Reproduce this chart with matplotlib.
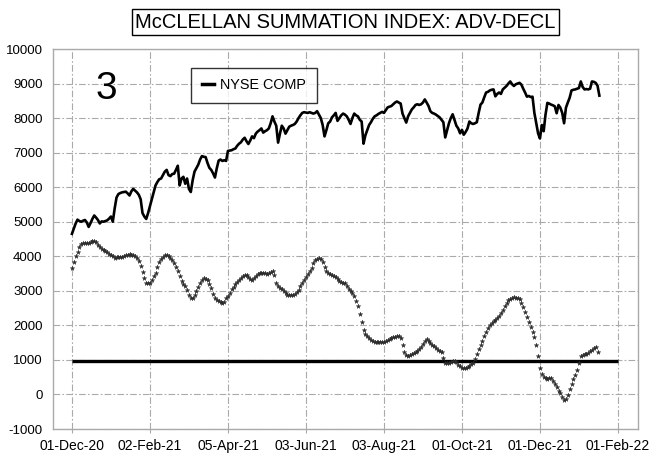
import matplotlib
matplotlib.use("Agg")
import matplotlib.pyplot as plt
from matplotlib.lines import Line2D

plt.rcParams['font.family'] = ['Liberation Sans', 'DejaVu Sans']

title = "McCLELLAN SUMMATION INDEX: ADV-DECL"
panel_label = "3"
series_name = "NYSE COMP"
tick_labels = ["01-Dec-20", "02-Feb-21", "05-Apr-21", "03-Jun-21",
               "03-Aug-21", "01-Oct-21", "01-Dec-21", "01-Feb-22"]
tick_positions = [0, 42, 84, 126, 168, 210, 252, 294]   # trading-day index
reference_level = 970

# NYSE Composite (scaled), one value per trading day
nyse = [
    4650, 4800, 4950, 5060, 5020, 5000, 5030, 5050, 4980, 4850,
    4960, 5080, 5180, 5120, 5050, 4950, 5010, 5000, 5020, 5040,
    5090, 5150, 5000, 5380, 5700, 5800, 5830, 5850, 5860, 5870,
    5820, 5760, 5880, 5950, 5900, 5850, 5780, 5650, 5250, 5150,
    5080, 5250, 5450, 5650, 5850, 6050, 6150, 6230, 6250, 6350,
    6450, 6500, 6350, 6320, 6380, 6390, 6500, 6620, 6050, 6250,
    6300, 6100, 6250, 5950, 5860, 6200, 6450, 6550, 6650, 6800,
    6900, 6880, 6870, 6700, 6560, 6500, 6400, 6280, 6550, 6770,
    6800, 6760, 6780, 6760, 7050, 7060, 7070, 7100, 7120, 7200,
    7260, 7300, 7380, 7430, 7330, 7250, 7350, 7470, 7420, 7550,
    7610, 7650, 7700, 7580, 7620, 7650, 7700, 7850, 8050, 7900,
    7780, 7290, 7550, 7780, 7700, 7550, 7650, 7750, 7780, 7800,
    7830, 7900, 8000, 8080, 8150, 8170, 8160, 8150, 8170, 8150,
    8130, 8150, 8200, 8100, 8000, 7800, 7470, 7650, 7850, 7900,
    8020, 8080, 8150, 7920, 8000, 8080, 8130, 8100, 8050, 7950,
    7830, 8000, 8130, 8080, 8050, 7950, 7900, 7260, 7500, 7650,
    7800, 7880, 7980, 8050, 8080, 8120, 8150, 8180, 8150, 8230,
    8310, 8330, 8350, 8400, 8450, 8480, 8450, 8420, 8130, 8000,
    7870, 8050, 8150, 8250, 8310, 8380, 8400, 8380, 8400, 8450,
    8540, 8450, 8350, 8200, 8150, 8130, 8100, 8060, 8020, 7950,
    7880, 7440, 7650, 7850, 8000, 8110, 7950, 7780, 7700, 7560,
    7660, 7520, 7600, 7700, 7900, 7850, 7830, 7850, 7880, 8150,
    8390, 8450, 8600, 8740, 8760, 8800, 8820, 8830, 8630, 8700,
    8740, 8700, 8830, 8880, 8930, 9000, 9060, 8980, 8930, 8980,
    9000, 9020, 8970, 8850, 8740, 8620, 8640, 8610, 8620, 8150,
    7850, 7560, 7410, 7800, 7620, 8100, 8440, 8420, 8390, 8370,
    8340, 8140, 8380, 8300, 8150, 7850, 8300, 8450, 8590, 8800,
    8820, 8830, 8850, 8870, 9060, 8900, 8830, 8840, 8830, 8850,
    9060, 9050, 9020, 8940, 8650,
]

# McClellan Summation Index, one value per trading day
summation = [
    3660, 3830, 4020, 4130, 4260, 4360, 4380, 4380, 4390, 4390,
    4410, 4430, 4440, 4400, 4330, 4260, 4210, 4180, 4150, 4120,
    4080, 4040, 4000, 3960, 3970, 3990, 3990, 3990, 4010, 4030,
    4050, 4060, 4050, 4050, 4000, 3950, 3850, 3720, 3550, 3380,
    3240, 3220, 3240, 3310, 3420, 3530, 3680, 3820, 3920, 3990,
    4030, 4030, 4010, 3960, 3880, 3800, 3700, 3580, 3420, 3290,
    3200, 3130, 3010, 2880, 2790, 2790, 2880, 2990, 3100, 3230,
    3320, 3380, 3350, 3300, 3210, 3070, 2920, 2800, 2740, 2710,
    2680, 2640, 2680, 2780, 2860, 2950, 3040, 3110, 3190, 3250,
    3320, 3380, 3420, 3450, 3470, 3400, 3330, 3310, 3370, 3430,
    3480, 3520, 3520, 3520, 3510, 3500, 3520, 3550, 3580, 3460,
    3230, 3140, 3080, 3040, 3000, 2930, 2890, 2870, 2870, 2870,
    2900, 2960, 3030, 3140, 3240, 3300, 3390, 3480, 3580, 3660,
    3800, 3880, 3930, 3950, 3920, 3840, 3680, 3580, 3520, 3480,
    3450, 3430, 3400, 3330, 3290, 3260, 3240, 3220, 3140, 3060,
    2990, 2930, 2850, 2700, 2560, 2320, 2100, 1860, 1760, 1690,
    1630, 1580, 1550, 1530, 1520, 1530, 1530, 1520, 1530, 1550,
    1580, 1600, 1620, 1650, 1670, 1690, 1700, 1620, 1430, 1220,
    1130, 1100, 1140, 1170, 1210, 1230, 1270, 1320, 1370, 1470,
    1560, 1610, 1560, 1490, 1440, 1390, 1340, 1290, 1250, 1230,
    1050, 920, 900, 910, 950, 980, 970, 940, 860, 820,
    780, 770, 770, 790, 830, 870, 910, 1040, 1170, 1310,
    1420, 1560, 1690, 1810, 1920, 2010, 2080, 2130, 2160, 2200,
    2260, 2350, 2440, 2560, 2650, 2720, 2770, 2800, 2810, 2800,
    2790, 2750, 2650, 2540, 2390, 2240, 2100, 1950, 1810, 1670,
    1420, 1100, 760, 600, 500, 470, 460, 470, 470, 400,
    300, 210, 100, 30, -70, -160, -120, -10, 150, 310,
    440, 560, 720, 900, 1100, 1140, 1160, 1180, 1200, 1260,
    1300, 1340, 1360, 1230,
]

W, H = 650, 459
fig = plt.figure(figsize=(W / 100, H / 100), dpi=100)
ax = fig.add_axes([53 / W, (H - 429) / H, 585 / W, 380 / H])

grid_kw = dict(color='#aaaaaa', lw=0.8, ls=(0, (6, 2, 1.5, 2)))
ax.set_axisbelow(True)
ax.grid(True, **grid_kw)

x_nyse = list(range(len(nyse)))
x_sum = list(range(len(summation)))

ax.plot([tick_positions[0], tick_positions[-1]], [reference_level, reference_level],
        color='black', lw=2.4, solid_capstyle='butt', zorder=3)
ax.plot(x_sum, summation, ls='none', marker='*', ms=3.4, color='#2a2a2a',
        markeredgewidth=0.3, zorder=4)
ax.plot(x_nyse, nyse, color='black', lw=1.9, zorder=5, label=series_name)

ax.set_xlim(-10.2, 304.8)
ax.set_ylim(-1000, 10000)
ax.set_yticks(range(-1000, 10001, 1000))
ax.set_yticklabels([str(v) for v in range(-1000, 10001, 1000)])
ax.set_xticks(tick_positions)
ax.set_xticklabels(tick_labels)

ax.tick_params(axis='y', length=0, pad=7.5, labelsize=9.5)
ax.tick_params(axis='x', length=3, color='#aaaaaa', pad=4.5, labelsize=10)
for s in ax.spines.values():
    s.set_color('#aaaaaa')
    s.set_linewidth(1.0)

ax.text(0.0906, 0.895, panel_label, transform=ax.transAxes, fontsize=28,
        ha='center', va='center')

leg_handle = Line2D([0], [0], color='black', lw=2.5)
leg = ax.legend([leg_handle], [series_name], loc='upper left',
                bbox_to_anchor=(0.2354, 0.951), borderaxespad=0,
                fontsize=10.4, handlelength=0.85, handletextpad=0.45,
                frameon=True, fancybox=False, edgecolor='black',
                borderpad=0.75)
leg.get_frame().set_linewidth(1.0)

fig.text(345.5 / W, 1 - 22 / H, title, ha='center', va='center', fontsize=14.5,
         bbox=dict(boxstyle='square,pad=0.18', fc='white', ec='black', lw=1.0))

fig.savefig('out.png', dpi=100)
